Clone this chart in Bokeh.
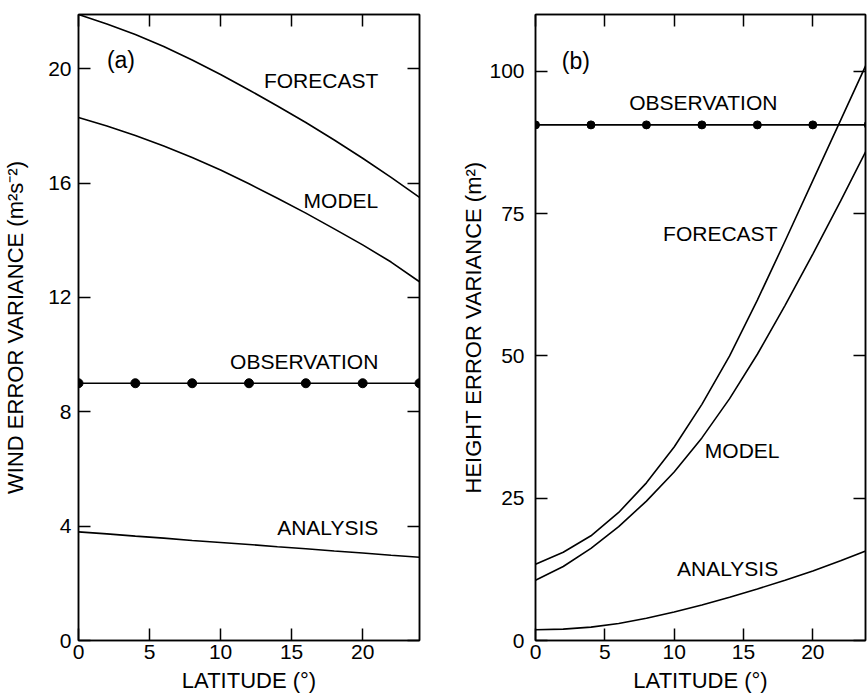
from bokeh.plotting import figure
from bokeh.models import LinearAxis, FixedTicker, Label, Range1d
from bokeh.layouts import row
from bokeh.embed import file_html
from bokeh.resources import INLINE

# ---------------- data ----------------
lat = [0, 2, 4, 6, 8, 10, 12, 14, 16, 18, 20, 22, 24]
obs_lat = [0, 4, 8, 12, 16, 20, 24]

wind_forecast = [21.9, 21.57, 21.2, 20.78, 20.31, 19.8, 19.26, 18.7, 18.12, 17.51, 16.87, 16.2, 15.5]
wind_model = [18.3, 18.0, 17.67, 17.3, 16.9, 16.46, 15.98, 15.47, 14.95, 14.4, 13.84, 13.24, 12.55]
wind_analysis = [3.80, 3.73, 3.65, 3.58, 3.50, 3.43, 3.36, 3.28, 3.21, 3.13, 3.06, 2.98, 2.91]
wind_obs = [9.0, 9.0, 9.0, 9.0, 9.0, 9.0, 9.0]

height_forecast = [13.4, 15.5, 18.4, 22.5, 27.7, 34.0, 41.5, 50.0, 59.8, 70.2, 80.8, 91.4, 102.0]
height_model = [10.6, 13.0, 16.2, 20.0, 24.5, 29.6, 35.6, 42.5, 50.3, 58.9, 67.9, 77.2, 86.8]
height_analysis = [1.9, 2.0, 2.35, 3.0, 3.9, 5.0, 6.25, 7.6, 9.05, 10.6, 12.2, 14.0, 15.9]
height_obs = [90.6, 90.6, 90.6, 90.6, 90.6, 90.6, 90.6]

lat_ticks = [0, 5, 10, 15, 20]
wind_ticks = [0, 4, 8, 12, 16, 20]
height_ticks = [0, 25, 50, 75, 100]

FONT = "Liberation Sans"
TICK_FS = "21px"
LABEL_FS = "21px"
AXIS_FS = "22px"
PANEL_FS = "23px"
LW = 1.6


def style_axis(ax, label_standoff, major_standoff, hidden=False):
    ax.major_tick_in = 12
    ax.major_tick_out = 0
    ax.minor_tick_in = 0
    ax.minor_tick_out = 0
    ax.major_tick_line_width = 1.5
    ax.major_tick_line_color = "black"
    ax.axis_line_color = "black"
    ax.axis_line_width = 1.5
    ax.major_label_text_font = FONT
    ax.major_label_text_color = "black"
    ax.major_label_text_font_size = TICK_FS
    ax.major_label_standoff = major_standoff
    ax.axis_label_text_font = FONT
    ax.axis_label_text_font_size = AXIS_FS
    ax.axis_label_text_font_style = "normal"
    ax.axis_label_text_color = "black"
    ax.axis_label_standoff = label_standoff
    if hidden:
        ax.major_label_text_color = None
        ax.major_label_text_font_size = "1px"
        ax.major_label_standoff = 0


def make_fig(width, bl, br, bt, x_end, y_end, y_ticks, ylabel, left_label_standoff, left_major_standoff):
    p = figure(width=width, height=698, output_backend="svg", toolbar_location=None,
               x_range=Range1d(0, x_end), y_range=Range1d(0, y_end),
               min_border_left=bl, min_border_right=br, min_border_top=bt, min_border_bottom=58)
    p.grid.visible = False
    p.outline_line_color = "black"
    p.outline_line_width = 1.5
    p.background_fill_color = "white"
    p.border_fill_color = "white"
    p.xaxis.ticker = FixedTicker(ticks=lat_ticks)
    p.yaxis.ticker = FixedTicker(ticks=y_ticks)
    p.xaxis.axis_label = "LATITUDE (°)"
    p.yaxis.axis_label = ylabel
    style_axis(p.xaxis[0], 6, 4)
    style_axis(p.yaxis[0], left_label_standoff, left_major_standoff)
    top = LinearAxis(ticker=FixedTicker(ticks=lat_ticks))
    style_axis(top, 0, 0, hidden=True)
    p.add_layout(top, "above")
    right = LinearAxis(ticker=FixedTicker(ticks=y_ticks))
    style_axis(right, 0, 0, hidden=True)
    p.add_layout(right, "right")
    return p


def add_label(p, x, y, text, align="right", size=LABEL_FS):
    p.add_layout(Label(x=x, y=y, text=text, text_align=align, text_baseline="middle",
                       text_font=FONT, text_font_size=size, text_color="black"))


# ---------------- panel (a) ----------------
pa = make_fig(440, 78, 21, 14, 24, 21.9, wind_ticks,
              "WIND ERROR VARIANCE (m²s⁻²)", 17, 7)
pa.line(lat, wind_forecast, line_color="black", line_width=LW)
pa.line(lat, wind_model, line_color="black", line_width=LW)
pa.line(lat, wind_analysis, line_color="black", line_width=LW)
pa.line(obs_lat, wind_obs, line_color="black", line_width=LW)
pa.scatter(obs_lat, wind_obs, size=9, marker="circle", fill_color="black", line_color="black")

add_label(pa, 2.0, 20.3, "(a)", align="left", size=PANEL_FS)
add_label(pa, 21.1, 19.6, "FORECAST")
add_label(pa, 21.1, 15.38, "MODEL")
add_label(pa, 21.1, 9.77, "OBSERVATION")
add_label(pa, 21.1, 3.95, "ANALYSIS")

# ---------------- panel (b) ----------------
pb = make_fig(427, 95, 2, 12, 23.8, 110, height_ticks,
              "HEIGHT ERROR VARIANCE (m²)", 0, 11)
pb.line(lat, height_forecast, line_color="black", line_width=LW)
pb.line(lat, height_model, line_color="black", line_width=LW)
pb.line(lat, height_analysis, line_color="black", line_width=LW)
pb.line(obs_lat, height_obs, line_color="black", line_width=LW)
pb.scatter(obs_lat, height_obs, size=8, marker="circle", fill_color="black", line_color="black")

add_label(pb, 1.9, 101.8, "(b)", align="left", size=PANEL_FS)
add_label(pb, 17.45, 94.5, "OBSERVATION")
add_label(pb, 17.45, 71.6, "FORECAST")
add_label(pb, 17.6, 33.3, "MODEL")
add_label(pb, 17.5, 12.7, "ANALYSIS")

layout = row(pa, pb)
open("out.html", "w").write(file_html(layout, INLINE))
